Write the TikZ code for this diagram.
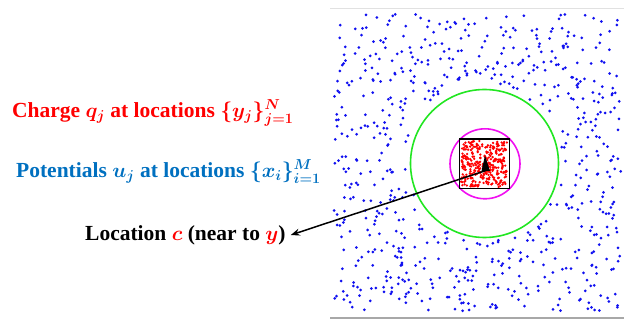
\documentclass[tikz,border=0pt]{standalone}
\usepackage{fontspec}
\setmainfont{Liberation Serif}
\usepackage{tikz}
\usepackage{xcolor}
\usetikzlibrary{arrows.meta,positioning,calc}
\definecolor{chargered}{HTML}{FF0000}
\definecolor{potblue}{HTML}{0070C0}
\definecolor{dotblue}{HTML}{1010F0}
\definecolor{farcircle}{HTML}{22E622}
\definecolor{nearcircle}{HTML}{F010F0}
\definecolor{rulegray}{HTML}{A8A8A8}

\begin{document}
\begin{tikzpicture}[x=1pt,y=-1pt,
    lbl/.style={anchor=west,inner sep=0pt,font=\fontsize{21.5}{24}\selectfont\bfseries\boldmath}]
      \useasboundingbox (0,0) rectangle (624,320);
      \draw[rulegray!35,line width=1.8pt] (330,8.5) -- (624,8.5);
      \draw[rulegray,line width=1.8pt] (330,318) -- (624,318);
      \pgfmathsetseed{4217}
      % far field sources
      \foreach \k in {1,...,860} {
        \pgfmathsetmacro\px{334+287*rnd}
        \pgfmathsetmacro\py{14+297*rnd}
        \pgfmathtruncatemacro\keep{veclen(\px-484.5,\py-163.5)>77}
        \ifnum\keep=1 \fill[dotblue] (\px,\py) circle (1.5); \fi
      }
      % near field box
      \foreach \k in {1,...,330} {
        \fill[chargered] ({461+46*rnd},{141+46*rnd}) circle (1.3);
      }
      \draw[farcircle,line width=1.6pt] (484.5,163.5) circle (74);
      \draw[nearcircle,line width=1.6pt] (485,163.8) circle (35);
      \draw[black,line width=1.5pt] (459.5,139) rectangle (509.5,188.5);
      \fill[black] (485,155.5) -- (481.5,171) -- (490,171) -- cycle;
      \coordinate (c) at (486,170.5);
      \node[lbl] (charge) at (12,113) {\color{chargered}Charge $q_j$ at locations $\{y_j\}_{j=1}^{N}$};
      \node[lbl] (pot) at (16,172) {\color{potblue}Potentials $u_j$ at locations $\{x_i\}_{i=1}^{M}$};
      \node[lbl] (loc) at (85,235) {Location {\color{chargered}$c$} (near to {\color{chargered}$y$})};
      \draw[black,line width=1.5pt,-{Stealth[length=9pt,width=7pt]}] (c) -- ([xshift=5pt]loc.east);
    \end{tikzpicture}
\end{document}
